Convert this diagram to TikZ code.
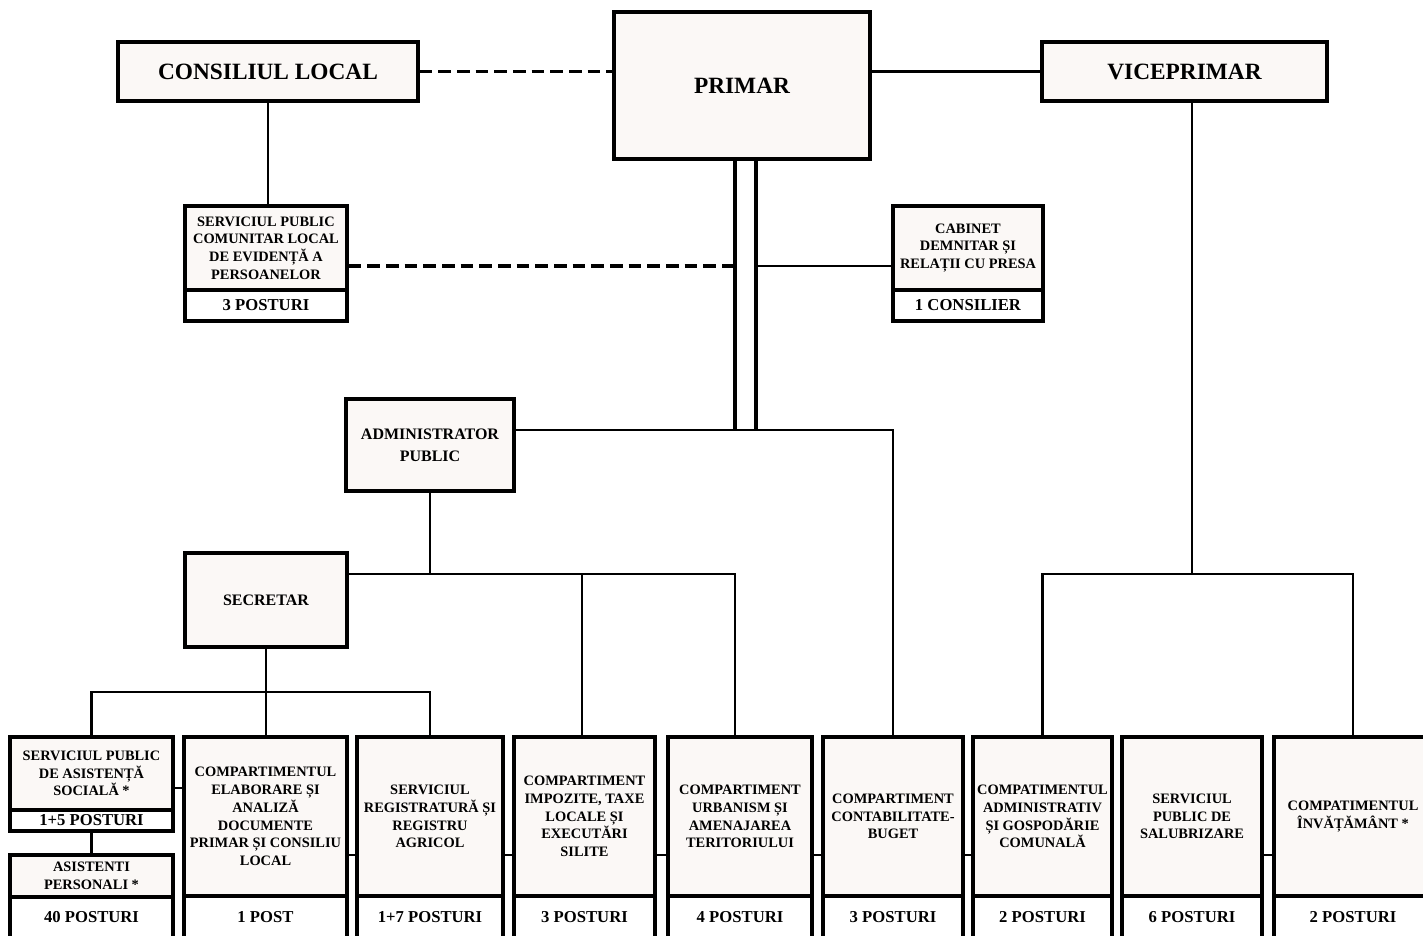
\documentclass[tikz,border=0pt]{standalone}
\usepackage{fontspec}
\setmainfont{Liberation Serif}
\definecolor{boxfill}{RGB}{251,248,246}
\tikzset{
 box/.style={draw, line width=2.6pt, fill=boxfill, align=center, inner sep=0pt, font=\bfseries\fontsize{10.8}{13.3}\selectfont},
 titlebox/.style={box, font=\bfseries\fontsize{17.5}{20}\selectfont},
 midbox/.style={box, font=\bfseries\fontsize{12}{16.5}\selectfont},
 cnt/.style={box, fill=white, font=\bfseries\fontsize{12.5}{15}\selectfont},
 link/.style={line width=2.2pt},
 dbl/.style={line width=2.3pt},
 dlink/.style={line width=2.5pt, dash pattern=on 9.5pt off 4.5pt},
}
\newcommand\bx[7]{\node[#1, minimum width={(#5-#3)*0.75pt}, minimum height={(#6-#4)*0.75pt}] (#2) at ({(#3+#5)/2},{(#4+#6)/2}) {#7};}
\begin{document}
\begin{tikzpicture}[x=0.75pt,y=-0.75pt]
\useasboundingbox (0,0) rectangle (1423,935);
\fill[white] (0,0) rectangle (1423,935);
\clip (0,0) rectangle (1423,935);
% top level
\bx{titlebox}{cl}{118}{42}{418}{101}{CONSILIUL LOCAL}
\bx{titlebox}{primar}{614}{12}{870}{159}{PRIMAR}
\bx{titlebox}{vice}{1042}{42}{1327}{101}{VICEPRIMAR}
\bx{box}{spclep}{185}{206}{347}{290}{SERVICIUL PUBLIC\\COMUNITAR LOCAL\\DE EVIDENȚĂ A\\PERSOANELOR}
\bx{cnt}{spclepn}{185}{290}{347}{321}{3 POSTURI}
\bx{box}{cab}{893}{206}{1043}{290}{CABINET\\DEMNITAR ȘI\\RELAȚII CU PRESA}
\bx{cnt}{cabn}{893}{290}{1043}{321}{1 CONSILIER}
\bx{midbox}{admin}{346}{399}{514}{491}{ADMINISTRATOR\\PUBLIC}
\bx{midbox}{sec}{185}{553}{347}{647}{SECRETAR}
% bottom row
\bx{box}{b1}{10}{737}{173}{810}{SERVICIUL PUBLIC\\DE ASISTENȚĂ\\SOCIALĂ *}
\bx{cnt}{b1n}{10}{810}{173}{831}{1+5 POSTURI}
\bx{box}{b1a}{10}{855}{173}{897}{ASISTENTI\\PERSONALI *}
\bx{cnt}{b1an}{10}{897}{173}{938}{40 POSTURI}
\bx{box}{b2}{184}{737}{347}{896}{COMPARTIMENTUL\\ELABORARE ȘI\\ANALIZĂ\\DOCUMENTE\\PRIMAR ȘI CONSILIU\\LOCAL}
\bx{cnt}{b2n}{184}{896}{347}{938}{1 POST}
\bx{box}{b3}{357}{737}{503}{896}{SERVICIUL\\REGISTRATURĂ ȘI\\REGISTRU\\AGRICOL}
\bx{cnt}{b3n}{357}{896}{503}{938}{1+7 POSTURI}
\bx{box}{b4}{514}{737}{655}{896}{COMPARTIMENT\\IMPOZITE, TAXE\\LOCALE ȘI\\EXECUTĂRI\\SILITE}
\bx{cnt}{b4n}{514}{896}{655}{938}{3 POSTURI}
\bx{box}{b5}{668}{737}{812}{896}{COMPARTIMENT\\URBANISM ȘI\\AMENAJAREA\\TERITORIULUI}
\bx{cnt}{b5n}{668}{896}{812}{938}{4 POSTURI}
\bx{box}{b6}{823}{737}{963}{896}{COMPARTIMENT\\CONTABILITATE-\\BUGET}
\bx{cnt}{b6n}{823}{896}{963}{938}{3 POSTURI}
\bx{box}{b7}{973}{737}{1112}{896}{COMPATIMENTUL\\ADMINISTRATIV\\ȘI GOSPODĂRIE\\COMUNALĂ}
\bx{cnt}{b7n}{973}{896}{1112}{938}{2 POSTURI}
\bx{box}{b8}{1122}{737}{1262}{896}{SERVICIUL\\PUBLIC DE\\SALUBRIZARE}
\bx{cnt}{b8n}{1122}{896}{1262}{938}{6 POSTURI}
\bx{box}{b9}{1274}{737}{1432}{896}{COMPATIMENTUL\\ÎNVĂȚĂMÂNT *}
\bx{cnt}{b9n}{1274}{896}{1432}{938}{2 POSTURI}
% junction coordinates
\coordinate (dl) at (735,430);
\coordinate (dr) at (756,430);
\coordinate (jl) at (735,266);
\coordinate (jr) at (756,266);
\coordinate (ja) at (430,574);
\coordinate (j4) at (582,574);
\coordinate (j5) at (735,574);
\coordinate (js) at (266,692);
\coordinate (jv) at (1192,574);
\coordinate (h1) at (0,788);
\coordinate (hb) at (0,855);
% connectors
\draw[dlink] (cl.east) -- (cl.east -| primar.west);
\draw[link] (primar.east |- vice.west) -- (vice.west);
\draw[link] (cl.south) -- (cl.south |- spclep.north);
\draw[dbl] (dl |- primar.south) -- (dl);
\draw[dbl] (dr |- primar.south) -- (dr);
\draw[dlink] (spclep.east |- jl) -- (jl);
\draw[link] (jr) -- (cab.west |- jr);
\draw[link] (admin.east |- dl) -- (b6.north |- dl) -- (b6.north);
\draw[link] (admin.south) -- (ja);
\draw[link] (sec.east |- ja) -- (j5) -- (j5 |- b5.north);
\draw[link] (j4) -- (j4 |- b4.north);
\draw[link] (sec.south) -- (js);
\draw[link] (b1.north) -- (b1.north |- js) -- (b3.north |- js) -- (b3.north);
\draw[link] (js) -- (js |- b2.north);
\draw[link] (jv |- vice.south) -- (jv);
\draw[link] (b7.north) -- (b7.north |- jv) -- (b9.north |- jv) -- (b9.north);
\draw[link] (b1.east |- h1) -- (b2.west |- h1);
\foreach \a/\b in {b2/b3,b3/b4,b4/b5,b5/b6,b6/b7,b8/b9}
  \draw[link] (\a.east |- hb) -- (\b.west |- hb);
\draw[link] (b1n.south) -- (b1a.north);
\end{tikzpicture}
\end{document}
